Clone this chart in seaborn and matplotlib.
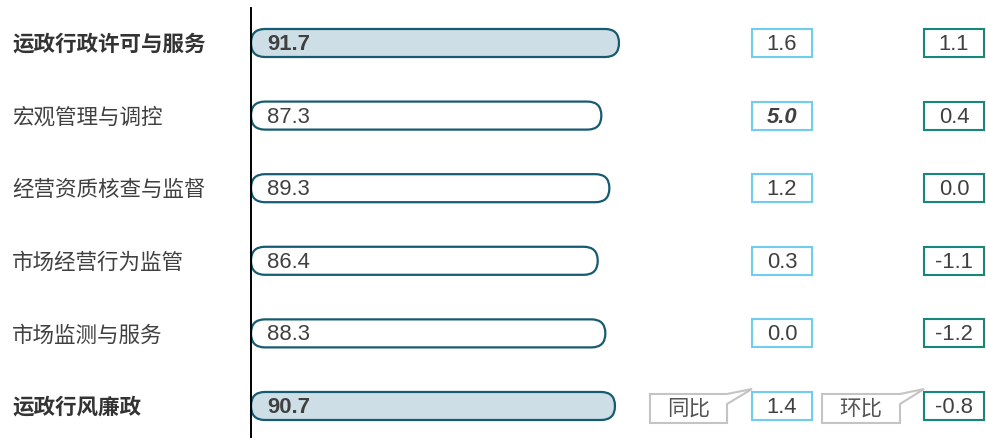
import matplotlib
matplotlib.use('Agg')
import matplotlib.pyplot as plt
import matplotlib.transforms as mtransforms
from matplotlib.patches import FancyBboxPatch, Rectangle, Polygon
import seaborn as sns
import pandas as pd

categories = ['运政行政许可与服务', '宏观管理与调控', '经营资质核查与监督',
              '市场经营行为监管', '市场监测与服务', '运政行风廉政']
scores = [91.7, 87.3, 89.3, 86.4, 88.3, 90.7]
yoy = [1.6, 5.0, 1.2, 0.3, 0.0, 1.4]
mom = [1.1, 0.4, 0.0, -1.1, -1.2, -0.8]
highlight = [True, False, False, False, False, True]
yoy_label = '同比'
mom_label = '环比'

sns.set_theme(style='white')
plt.rcParams['font.family'] = ['Liberation Sans', 'Noto Sans CJK SC']

W, H = 986, 438
TXT = '#404040'
BAR_EDGE = '#175b70'
BAR_HL = '#cddee6'
YOY_EDGE = '#70cdf0'
MOM_EDGE = '#17877c'
CALL_EDGE = '#c4c4c4'
NUM_FS = 15.8
LAB_FS = 15.5

fig = plt.figure(figsize=(W / 100, H / 100), dpi=100)
ax = fig.add_axes([251 / W, 0, 1 - 251 / W, 1 - 8 / H])

df = pd.DataFrame({'cat': categories, 'score': scores})
BAR_H = 0.386
sns.barplot(data=df, x='score', y='cat', orient='h', width=BAR_H,
            color='white', ax=ax)

px_per_x = 4.013
ax.set_xlim(0, 735 / px_per_x)
ax.set_ylim(5.441, -0.482)
px_per_y = 430 / (5.441 + 0.482)

asp = px_per_x / px_per_y
for p, hl in zip(list(ax.patches), highlight):
    x0, y0, w, h = p.get_x(), p.get_y(), p.get_width(), p.get_height()
    p.remove()
    rx = (h / asp) / 2 * 0.995
    fb = FancyBboxPatch((x0, y0), w, h,
                        boxstyle=f'round,pad=0,rounding_size={rx}',
                        mutation_aspect=asp,
                        fc=BAR_HL if hl else 'white', ec=BAR_EDGE, lw=1.6,
                        zorder=2)
    ax.add_patch(fb)

down = mtransforms.ScaledTranslation(0, -1.5 / 100, fig.dpi_scale_trans)
for i, (v, hl) in enumerate(zip(scores, highlight)):
    ax.text(16 / px_per_x, i, f'{v:.1f}', va='center', ha='left',
            fontsize=NUM_FS, color=TXT, fontweight='bold' if hl else 'normal',
            transform=ax.transData + down, zorder=3)

# axes styling
for s in ['top', 'right', 'bottom']:
    ax.spines[s].set_visible(False)
ax.spines['left'].set_color('black')
ax.spines['left'].set_linewidth(1.4)
ax.set_xticks([])
ax.set_xlabel('')
ax.set_ylabel('')
ax.tick_params(axis='y', length=0, pad=239 * 0.72)
for lbl, hl in zip(ax.get_yticklabels(), highlight):
    lbl.set_ha('left')
    lbl.set_fontsize(LAB_FS)
    lbl.set_color('#333333' if hl else TXT)
    lbl.set_fontweight('bold' if hl else 'normal')

# change boxes
xpix = mtransforms.Affine2D().scale(1 / W, 1) + fig.transFigure
blend = mtransforms.blended_transform_factory(xpix, ax.transData)
imax = max(range(len(yoy)), key=lambda k: yoy[k])
for i in range(len(categories)):
    for vals, x0, wbox, ec in [(yoy, 752, 60, YOY_EDGE), (mom, 924, 60, MOM_EDGE)]:
        r = Rectangle((x0, i - BAR_H / 2), wbox, BAR_H, transform=blend,
                      fc='white', ec=ec, lw=1.5, clip_on=False, zorder=2)
        ax.add_patch(r)
        special = (vals is yoy and i == imax)
        ax.text(x0 + wbox / 2, i, f'{vals[i]:.1f}', transform=blend + down,
                ha='center', va='center', fontsize=NUM_FS, color=TXT,
                fontweight='bold' if special else 'normal',
                fontstyle='italic' if special else 'normal',
                clip_on=False, zorder=3)

# callouts
pix = mtransforms.Affine2D().scale(1 / W, -1 / H).translate(0, 1) + fig.transFigure
for lab, left, right, tip in [(yoy_label, 650, 727, 752), (mom_label, 822, 900, 924)]:
    pts = [(left, 394), (right, 394), (tip, 389), (right, 404),
           (right, 423), (left, 423)]
    poly = Polygon(pts, closed=True, transform=pix, fc='white', ec=CALL_EDGE,
                   lw=1.5, clip_on=False, zorder=4)
    fig.add_artist(poly)
    fig.text((left + right) / 2 / W, 1 - 409 / H, lab, ha='center', va='center',
             fontsize=LAB_FS, color='#555555', zorder=5)

fig.savefig('out.png', dpi=100)
